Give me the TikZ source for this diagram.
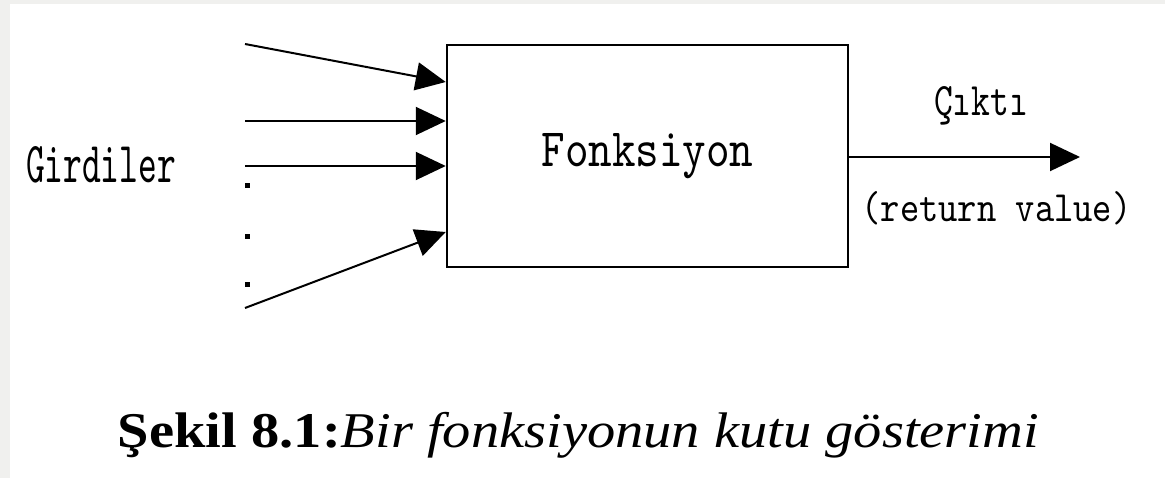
\documentclass[tikz,border=0pt]{standalone}
\usepackage{fontspec}
\setmainfont{Liberation Serif}
\usepackage{graphicx}
\usetikzlibrary{arrows.meta}
\definecolor{bgray}{RGB}{240,240,238}
\newcommand\monof{\ttfamily}
\newsavebox\capbox
\newlength\caph
\begin{document}
\begin{tikzpicture}[x=1pt,y=-1pt,line width=2pt,
  inarrow/.style={-{Triangle[length=30pt 0,width=28pt 0]}},
  dotnode/.style={rectangle,fill,inner sep=0pt,minimum size=5pt},
  txt/.style={anchor=base,inner sep=0pt}]
\useasboundingbox (0,0) rectangle (1165,478);
\fill[bgray] (0,0) rectangle (1165,478);
\fill[white] (10,4) rectangle (1165,478);

\node[draw,line width=2.5pt,minimum width=401pt,minimum height=222pt,inner sep=0pt]
  (box) at (647.5,156) {\resizebox{212pt}{33pt}{\monof Fonksiyon}};

\node[txt] (gird) at (101,183) {\resizebox{150pt}{36pt}{\monof Girdiler}};
\node[txt] (cikti) at (981,116) {\resizebox{94pt}{29pt}{\monof Çıktı}};
\node[txt] (ret) at (996.5,222) {\resizebox{270pt}{30pt}{\monof (return value)}};

\node[txt] (cap) at (578.5,447) {\sbox\capbox{\fontsize{50}{50}\selectfont\textbf{Şekil 8.1:}\textit{Bir fonksiyonun kutu gösterimi}}\setlength\caph{\ht\capbox}\resizebox{921pt}{\caph}{\usebox\capbox}};

\coordinate (s1) at (245,44);
\coordinate (s2) at (245,121);
\coordinate (s3) at (245,166);
\coordinate (s4) at (245,308);
\draw[inarrow] (s1) -- ([yshift=74pt]box.west);
\draw[inarrow] (s2) -- (s2 -| box.west);
\draw[inarrow] (s3) -- (s3 -| box.west);
\draw[inarrow] (s4) -- ([yshift=-76pt]box.west);

\coordinate (o) at (1080,157);
\draw[inarrow] (o -| box.east) -- (o);

\node[dotnode] (d1) at (247,186) {};
\node[dotnode] (d2) at (247,237) {};
\node[dotnode] (d3) at (247,285) {};
\end{tikzpicture}
\end{document}
